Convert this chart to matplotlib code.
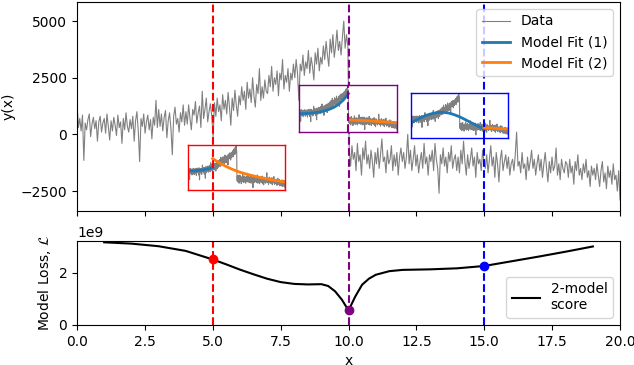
import numpy as np
import matplotlib
matplotlib.use("Agg")
import matplotlib.pyplot as plt

# noisy signal (x from 0 to 20, 20 samples per unit)
data_y = [1400, 300, 700, 150, 850, -1150, 500, 200, 650, 900, -100, 450, 750, 250, 600, -300, 550, 800, 100, 500,
          700, 50, 900, 350, -250, 600, 150, 750, 400, -50, 850, 300, 550, -400, 700, 200, 950, 350, 100, 650,
          250, 800, -300, 600, 1000, 150, -1200, 700, 350, 900, 50, 550, 850, 200, 650, -200, 750, 400, 1500, 300,
          1100, 350, 900, 150, 750, 1050, -150, 600, 950, 250, -900, 800, 1200, 450, 700, 100, 950, 550, 1300, 400,
          1000, 450, 1300, 700, 200, 1100, 850, 1450, 500, 950, 1250, 300, 1900, 700, 1100, 1600, 550, 1000, 1350, 800,
          -100, 1400, 800, 1600, 1000, 1300, 600, 1750, 1100, 1500, 900, 1850, 1200, 400, 1600, 1050, 1950, 1300, 800, 1700,
          1300, 2100, 1500, 1900, 1100, 2300, 1600, 2000, 1400, 2500, 1700, 1200, 2200, 1800, 2900, 1500, 2100, 1600, 2400, 1900,
          1800, 2600, 2100, 3000, 1900, 2500, 2200, 2800, 1700, 2700, 2400, 3300, 2000, 2600, 2300, 2900, 1900, 2700, 2400, 3100,
          2500, 3300, 2700, 1500, 3100, 2800, 3500, 2600, 3200, 2900, 3700, 2700, 3400, 3000, 2400, 3600, 3100, 3800, 2800, 3400,
          3100, 3900, 3300, 4100, 3500, 3000, 4200, 3600, 4400, 3400, 3900, 4600, 3700, 4100, 3500, 4300, 5000, 3800, 4400, 3900,
          -700, -1400, -500, -1100, -800, -1600, -400, -1200, -900, -1800, -600, -1100, -300, -1300, -900, -1500, -700, -1200, -1900, -800,
          -1300, -600, -1500, -900, -200, -1200, -1000, -1700, -700, -1300, -1100, -500, -1600, -900, -1400, -800, -1800, -1000, -600, -1200,
          -800, -1500, -1000, 0, -1300, -700, -1600, -1100, -500, -1400, -900, -1700, -1200, -800, -1500, -400, -1300, -1000, -1800, -900,
          -1200, -700, -1600, -400, -1100, -1500, -2600, -900, -1300, -600, -1400, -1000, -1700, -800, -1200, -500, -1500, -1100, -900, -1600,
          -1000, -1700, -700, -1300, -300, -1200, -1800, -900, -1500, -1100, -600, -1400, -1000, -1900, -800, -1300, -1100, -1600, -700, -1200,
          -1500, -900, -1700, -1100, -500, -1400, -1000, -1900, -800, -1300, -2100, -1100, -700, -1600, -1200, -900, -1500, -1000, -1800, -1300,
          -1100, -1600, -900, 100, -1400, -1200, -1700, -800, -1500, -1300, -2000, -1000, -1600, -1200, -700, -1500, -1100, -1800, -1300, -900,
          -1600, -1100, -1900, -1300, -800, -1500, -2100, -1200, -1700, -1000, -1600, -1400, -600, -1800, -1300, -2000, -1100, -1500, -1700, -1200,
          -1300, -1900, -1100, -1700, -1400, -2200, -1200, -1600, -900, -1800, -1500, -2000, -1300, -1700, -1100, -1900, -1600, -2300, -1400, -1800,
          -1500, -2000, -1300, -1800, -2300, -1600, -1200, -2100, -1700, -2400, -1400, -1900, -1600, -2200, -1300, -2000, -1800, -2500, -1600, -2900]
data_x = np.linspace(0, 20, len(data_y))

splits = [5, 10, 15]
split_colors = ["red", "purple", "blue"]

# model fits for each candidate split (left part / right part)
fit1_x = [[0, 1, 2, 3, 4, 5],
          [0, 1, 2, 3, 4, 5, 6, 7, 8, 9, 10],
          [0, 1, 2, 3, 4, 5, 6, 7, 8, 9, 10, 11, 12, 13, 14, 15]]
fit1_y = [[400, 430, 500, 620, 790, 1010],
          [190, 220, 270, 350, 480, 670, 930, 1300, 1850, 2650, 3740],
          [-470, 100, 560, 950, 1250, 1450, 1560, 1540, 1400, 1100, 750, 300, -170, -640, -1100, -1550]]
fit2_x = [[5, 6, 7, 8, 9, 10, 11, 12, 13, 14, 15, 16, 17, 18, 19, 20],
          [10, 12, 14, 16, 18, 20],
          [15, 16, 17, 18, 19, 20]]
fit2_y = [[2670, 2100, 1600, 1150, 750, 400, 100, -150, -380, -600, -800, -980, -1150, -1300, -1450, -1580],
          [-900, -980, -1070, -1170, -1280, -1400],
          [-1260, -1310, -1360, -1420, -1470, -1520]]

# loss of the 2-model score along the split position
loss_x = [1, 2, 3, 4, 5, 5.5, 6, 6.5, 7, 7.5, 8, 8.5, 9, 9.25, 9.5, 9.75, 10,
          10.25, 10.5, 10.75, 11, 11.5, 12, 13, 14, 15, 16, 17, 18, 19]
loss_y = [3.18, 3.13, 3.03, 2.85, 2.52, 2.33, 2.13, 1.95, 1.78, 1.65, 1.58, 1.56, 1.57, 1.50,
          1.30, 0.98, 0.56, 1.10, 1.55, 1.78, 1.93, 2.07, 2.12, 2.14, 2.18, 2.27, 2.45, 2.63,
          2.82, 3.02]
loss_y = [v * 1e9 for v in loss_y]

# inset boxes, in data coords of the top axes
inset_boxes = [[4.1, -2470, 3.57, 2015],
               [8.19, 90, 3.61, 2070],
               [12.29, -145, 3.6, 1985]]

fig = plt.figure(figsize=(6.34, 3.65), dpi=100)
ax1 = fig.add_axes([0.1215, 0.422, 0.8565, 0.5726])
ax2 = fig.add_axes([0.1215, 0.1096, 0.8565, 0.2301], sharex=ax1)

ax1.plot(data_x, data_y, color="gray", lw=0.8, label="Data")
ax1.plot([], [], color="C0", lw=2, label="Model Fit (1)")
ax1.plot([], [], color="C1", lw=2, label="Model Fit (2)")
for s, c in zip(splits, split_colors):
    ax1.axvline(s, color=c, ls="--", lw=1.5)
ax1.set_xlim(0, 20)
ax1.set_ylim(-3380, 5840)
ax1.set_yticks([-2500, 0, 2500, 5000])
ax1.set_ylabel("y(x)")
ax1.tick_params(labelbottom=False)
ax1.legend(loc="upper right")

for i in range(3):
    axi = ax1.inset_axes(inset_boxes[i], transform=ax1.transData)
    axi.plot(data_x, data_y, color="gray", lw=0.8)
    axi.plot(fit1_x[i], fit1_y[i], color="C0", lw=2)
    axi.plot(fit2_x[i], fit2_y[i], color="C1", lw=2)
    axi.axvline(splits[i], color=split_colors[i], ls="--", lw=1.5)
    axi.set_xlim(0, 20)
    axi.set_ylim(-3100, 5200)
    axi.set_xticks([])
    axi.set_yticks([])
    for sp in axi.spines.values():
        sp.set_color(split_colors[i])
        sp.set_linewidth(1)

ax2.plot(loss_x, loss_y, color="black", lw=1.5, label="2-model\nscore")
for s, c in zip(splits, split_colors):
    ax2.axvline(s, color=c, ls="--", lw=1.5)
    ax2.plot(s, loss_y[loss_x.index(s)], "o", color=c, ms=6)
ax2.set_ylim(0, 3.23e9)
ax2.set_xlim(0, 20)
ax2.set_xlabel("x")
ax2.set_ylabel("Model Loss, $\\mathcal{L}$")
ax2.legend(loc="lower right")

plt.savefig("out.png")
